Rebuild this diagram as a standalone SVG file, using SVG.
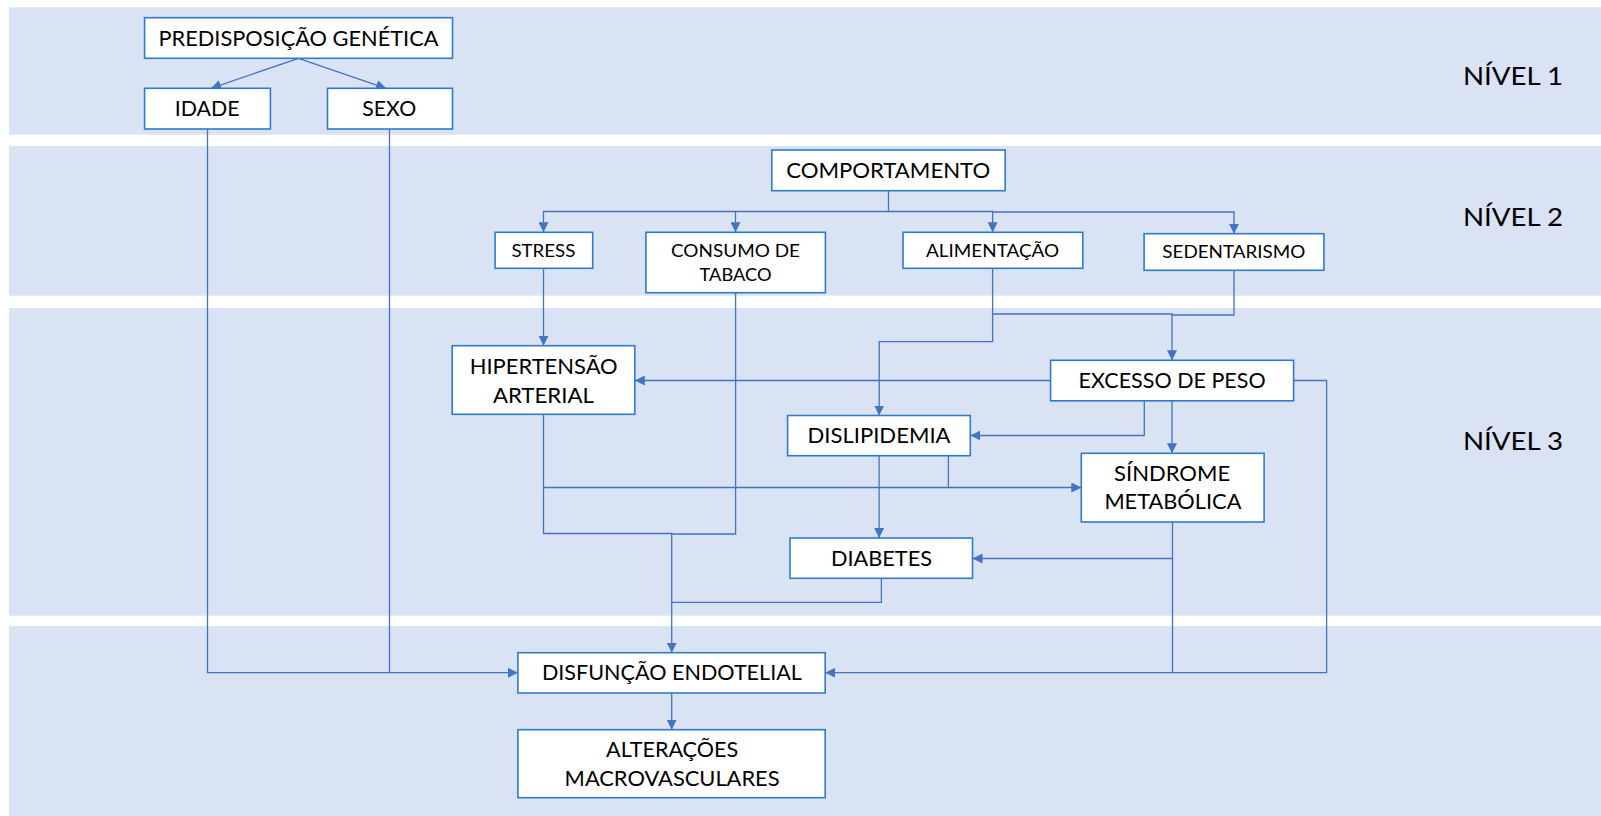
<svg xmlns="http://www.w3.org/2000/svg" width="1601" height="816" viewBox="0 0 1601 816">
<defs>
<style>
.band{fill:#DAE3F3}
.box rect{fill:#FFFFFF;stroke:#2E7BCF;stroke-width:1.6}
.box text,.lvl{font-family:Lato,"Liberation Sans",sans-serif;fill:#000000;text-anchor:middle}
.t{font-size:20.5px}
.s{font-size:17.5px}
.lvl{font-size:25.5px;text-anchor:start}
#connectors path{fill:none;stroke:#4472C4;stroke-width:1.3}
.a{marker-end:url(#arr)}
</style>
<marker id="arr" viewBox="0 0 10 10" refX="10" refY="5" markerWidth="10" markerHeight="10" markerUnits="userSpaceOnUse" orient="auto">
<path d="M0,0 L10,5 L0,10 z" fill="#4472C4"/>
</marker>
</defs>
<rect width="1601" height="816" fill="#FFFFFF"/>
<g id="bands">
<rect class="band" x="9" y="7.3" width="1592" height="127.4"/>
<rect class="band" x="9" y="146" width="1592" height="149.7"/>
<rect class="band" x="9" y="308" width="1592" height="307.7"/>
<rect class="band" x="9" y="626" width="1592" height="190"/>
<text class="lvl" x="1463" y="85" textLength="100" lengthAdjust="spacingAndGlyphs">NÍVEL 1</text>
<text class="lvl" x="1463" y="225.7" textLength="100" lengthAdjust="spacingAndGlyphs">NÍVEL 2</text>
<text class="lvl" x="1463" y="450" textLength="100" lengthAdjust="spacingAndGlyphs">NÍVEL 3</text>
</g>
<g id="connectors">
<path class="a" d="M298.5 58.3 L211 88.3"/>
<path class="a" d="M298.5 58.3 L386 88.3"/>
<path d="M207.5 129 V672.7 H389.5"/>
<path class="a" d="M389.5 129 V672.7 H517.9"/>
<path class="a" d="M888.5 190.7 V211.5 H543.5 V232.3"/>
<path class="a" d="M735.5 211.5 V232.3"/>
<path class="a" d="M888.5 211.5 H992.6 V232.3"/>
<path class="a" d="M992.6 212 H1234 V233.7"/>
<path class="a" d="M543.5 268.3 V345.7"/>
<path class="a" d="M992.6 268.3 V341.7 H879.2 V415.5"/>
<path class="a" d="M992.6 314 H1172 V360.3"/>
<path d="M1234 270.3 V315 H1172"/>
<path class="a" d="M1050.6 380.5 H634.8"/>
<path class="a" d="M1144.3 401 V435.5 H970.4"/>
<path class="a" d="M1172 401 V453.3"/>
<path class="a" d="M1293.6 380.5 H1326.6 V672.7 H825.2"/>
<path class="a" d="M543.5 414.3 V487.5 H1081.3"/>
<path class="a" d="M543.5 487.5 V533.5 H671.7 V652.7"/>
<path d="M735.6 292.7 V534 H671.7"/>
<path class="a" d="M879.1 455.7 V538"/>
<path d="M948.4 455.7 V487.5"/>
<path class="a" d="M1172.5 522 V558.5 H972.5"/>
<path d="M1172.5 558.5 V672.7"/>
<path d="M881.4 578.3 V602.3 H671.7"/>
<path class="a" d="M671.7 693 V729.7"/>
</g>
<g id="predisposicao" class="box">
<rect x="144.6" y="17.7" width="307.9" height="40.6"/>
<text class="t" x="298.5" y="46" textLength="280" lengthAdjust="spacingAndGlyphs">PREDISPOSIÇÃO GENÉTICA</text>
</g>
<g id="idade" class="box">
<rect x="144.6" y="88.3" width="125.8" height="40.7"/>
<text class="t" x="207.2" y="116" textLength="65" lengthAdjust="spacingAndGlyphs">IDADE</text>
</g>
<g id="sexo" class="box">
<rect x="327.5" y="88.3" width="125" height="40.7"/>
<text class="t" x="389.3" y="116" textLength="54" lengthAdjust="spacingAndGlyphs">SEXO</text>
</g>
<g id="comportamento" class="box">
<rect x="771.8" y="150" width="233.4" height="40.7"/>
<text class="t" x="888.2" y="178.3" textLength="204" lengthAdjust="spacingAndGlyphs">COMPORTAMENTO</text>
</g>
<g id="stress" class="box">
<rect x="495.1" y="232.3" width="97.6" height="36"/>
<text class="s" x="543.4" y="256.7" textLength="64" lengthAdjust="spacingAndGlyphs">STRESS</text>
</g>
<g id="tabaco" class="box">
<rect x="645.9" y="232.3" width="179.5" height="60.4"/>
<text class="s" x="735.5" y="256.7" textLength="129" lengthAdjust="spacingAndGlyphs">CONSUMO DE</text>
<text class="s" x="735.6" y="281" textLength="72" lengthAdjust="spacingAndGlyphs">TABACO</text>
</g>
<g id="alimentacao" class="box">
<rect x="903" y="232.3" width="179.8" height="36"/>
<text class="s" x="992.6" y="256.7" textLength="133" lengthAdjust="spacingAndGlyphs">ALIMENTAÇÃO</text>
</g>
<g id="sedentarismo" class="box">
<rect x="1144.1" y="233.7" width="179.8" height="36.6"/>
<text class="s" x="1233.8" y="258" textLength="143" lengthAdjust="spacingAndGlyphs">SEDENTARISMO</text>
</g>
<g id="hipertensao" class="box">
<rect x="452.2" y="345.7" width="182.6" height="68.6"/>
<text class="t" x="543.7" y="374.3" textLength="148" lengthAdjust="spacingAndGlyphs">HIPERTENSÃO</text>
<text class="t" x="543.4" y="402.7" textLength="101" lengthAdjust="spacingAndGlyphs">ARTERIAL</text>
</g>
<g id="excesso" class="box">
<rect x="1050.6" y="360.3" width="243" height="40.5"/>
<text class="t" x="1172.1" y="388.3" textLength="187" lengthAdjust="spacingAndGlyphs">EXCESSO DE PESO</text>
</g>
<g id="dislipidemia" class="box">
<rect x="787.6" y="415.5" width="182.7" height="40.2"/>
<text class="t" x="879" y="443" textLength="143" lengthAdjust="spacingAndGlyphs">DISLIPIDEMIA</text>
</g>
<g id="sindrome" class="box">
<rect x="1081.3" y="453.3" width="182.8" height="68.7"/>
<text class="t" x="1172.1" y="481.3" textLength="116" lengthAdjust="spacingAndGlyphs">SÍNDROME</text>
<text class="t" x="1172.9" y="509" textLength="137" lengthAdjust="spacingAndGlyphs">METABÓLICA</text>
</g>
<g id="diabetes" class="box">
<rect x="790" y="538" width="182.5" height="40.3"/>
<text class="t" x="881.5" y="565.7" textLength="101" lengthAdjust="spacingAndGlyphs">DIABETES</text>
</g>
<g id="disfuncao" class="box">
<rect x="517.9" y="652.7" width="307.3" height="40.3"/>
<text class="t" x="671.9" y="680" textLength="260" lengthAdjust="spacingAndGlyphs">DISFUNÇÃO ENDOTELIAL</text>
</g>
<g id="alteracoes" class="box">
<rect x="517.9" y="729.7" width="307.3" height="68"/>
<text class="t" x="672.1" y="756.7" textLength="132" lengthAdjust="spacingAndGlyphs">ALTERAÇÕES</text>
<text class="t" x="672.1" y="785.7" textLength="215" lengthAdjust="spacingAndGlyphs">MACROVASCULARES</text>
</g>
</svg>
